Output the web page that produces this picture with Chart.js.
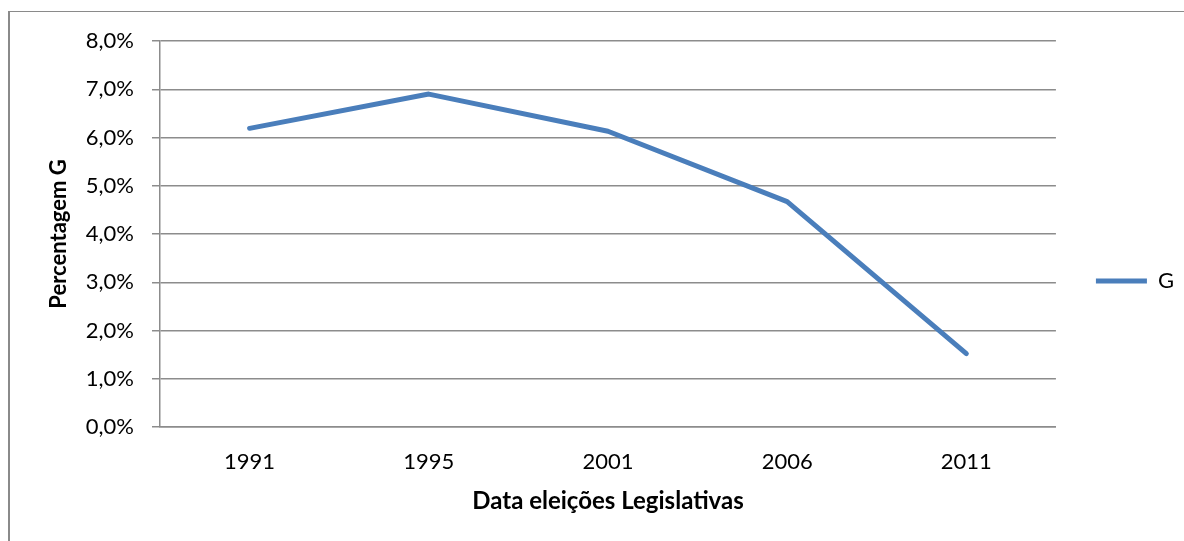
<!DOCTYPE html>
<html>
<head>
<meta charset="utf-8">
<script src="https://cdn.jsdelivr.net/npm/chart.js@4/dist/chart.umd.min.js"></script>
<style>
  html, body { margin: 0; padding: 0; background: #ffffff; }
  #wrap { position: relative; width: 1184px; height: 541px; }
  #frame { position: absolute; left: 8px; top: 11px; right: -10px; bottom: -10px;
           border-left: 2px solid #8a8a8a; border-top: 1.5px solid #8a8a8a; }
  #chart { position: absolute; left: 0; top: 0; }
</style>
</head>
<body>
<div id="wrap">
  <div id="frame"></div>
  <canvas id="chart" width="1184" height="541"></canvas>
</div>
<script>
// Election years and the share of votes (percent) for G
const years = ['1991', '1995', '2001', '2006', '2011'];
const shareG = [6.19, 6.9, 6.13, 4.67, 1.52];
const seriesName = 'G';
const yAxisTitle = 'Percentagem G';
const xAxisTitle = 'Data eleições Legislativas';

const FONT = 'Lato, "Open Sans", "DejaVu Sans", sans-serif';
const GRID = '#8c8c8c';
const LINE = '#4a7ebb';

new Chart(document.getElementById('chart'), {
  type: 'line',
  data: {
    labels: years,
    datasets: [{
      label: seriesName,
      data: shareG,
      borderColor: LINE,
      backgroundColor: LINE,
      borderWidth: 5,
      borderCapStyle: 'round',
      borderJoinStyle: 'round',
      pointRadius: 0,
      pointHoverRadius: 0,
      tension: 0,
      fill: false
    }]
  },
  options: {
    responsive: false,
    animation: false,
    layout: { padding: { top: 41, left: 0, right: 0, bottom: 20 } },
    plugins: {
      tooltip: { enabled: false },
      legend: {
        position: 'right',
        align: 'center',
        labels: {
          usePointStyle: true,
          pointStyle: 'line',
          pointStyleWidth: 51,
          padding: 40,
          color: '#000000',
          font: { family: FONT, size: 22 }
        }
      }
    },
    scales: {
      x: {
        offset: true,
        grid: { display: false, drawTicks: false },
        border: { display: true, color: GRID, width: 1.5 },
        ticks: { color: '#000000', padding: 22, font: { family: FONT, size: 22 } },
        title: {
          display: true, text: xAxisTitle, color: '#000000',
          font: { family: FONT, size: 24, weight: 'bold' },
          padding: { top: 0, bottom: 5 }
        },
        afterFit(scale) { scale.height = 94; }
      },
      y: {
        min: 0,
        max: 8,
        grid: { color: GRID, lineWidth: 1.5, drawTicks: true, tickLength: 8, tickColor: GRID },
        border: { display: true, color: GRID, width: 1.5 },
        ticks: {
          stepSize: 1,
          padding: 18,
          color: '#000000',
          font: { family: FONT, size: 22 },
          callback: (v) => v.toFixed(1).replace('.', ',') + '%'
        },
        title: {
          display: true, text: yAxisTitle, color: '#000000',
          font: { family: FONT, size: 22, weight: 'bold' },
          padding: { top: 46, bottom: 0 }
        },
        afterFit(scale) { scale.width = 160; }
      }
    }
  }
});
</script>
</body>
</html>
